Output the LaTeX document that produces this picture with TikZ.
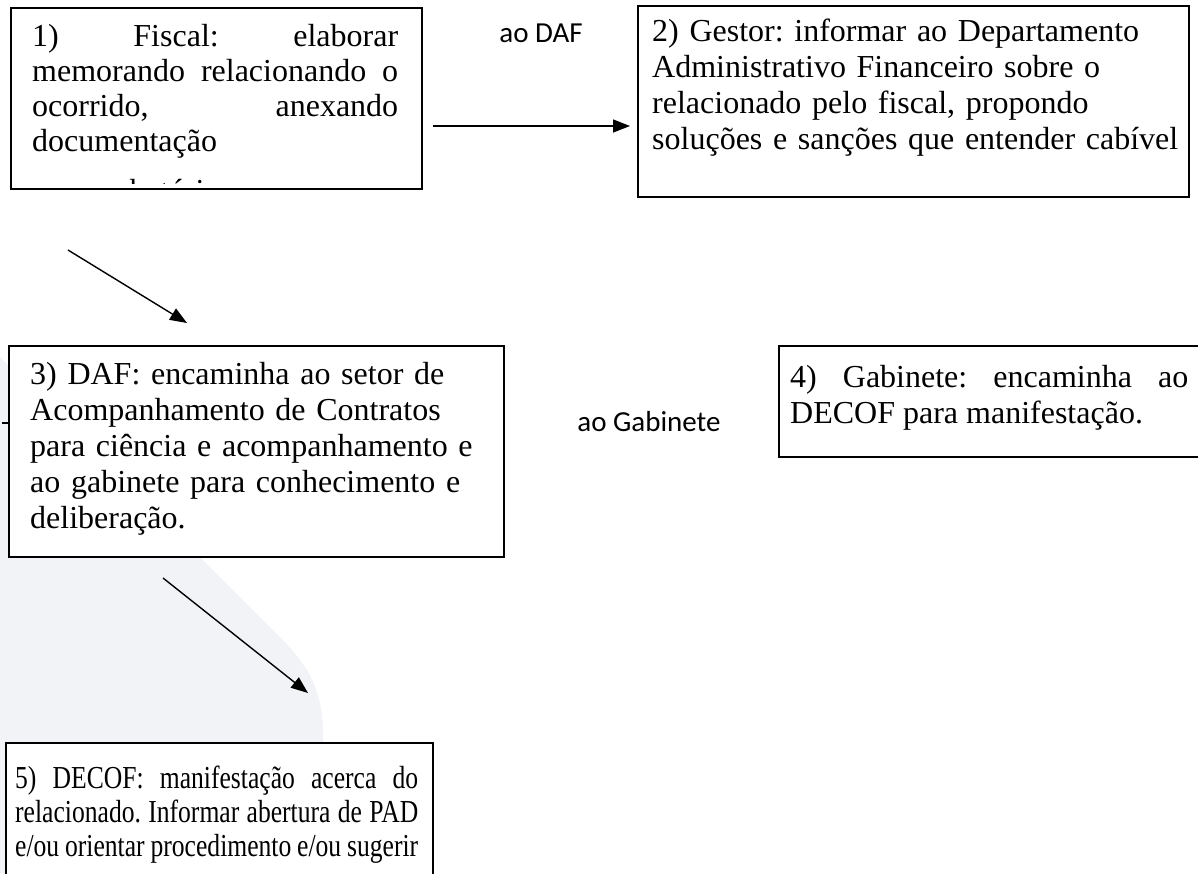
\documentclass[tikz,border=0pt]{standalone}
\usepackage{fontspec}
\setmainfont{Liberation Serif}
\newfontfamily\labelfont{Carlito}
\newfontfamily\condfont[FakeStretch=0.8]{Liberation Serif}
\usetikzlibrary{arrows.meta}
\definecolor{bgshape}{RGB}{242,243,247}
\hyphenpenalty=10000
\exhyphenpenalty=10000
\tolerance=10000
\frenchspacing
\begin{document}
\begin{tikzpicture}[x=1pt,y=-1pt,
  box/.style={draw=black,line width=1.8pt,fill=white,inner sep=0pt,anchor=north west},
  txt/.style={anchor=north west,inner sep=0pt,text width=#1,align=justify,
    font=\fontsize{32}{35}\selectfont},
  rag/.style={anchor=north west,inner sep=0pt,text width=#1,align=left,
    font=\fontsize{32}{36}\selectfont},
  lbl/.style={inner sep=0pt,font=\labelfont\fontsize{29}{32}\selectfont},
  conn/.style={line width=1.4pt,-{Triangle[length=17pt,width=13pt]}}]
\useasboundingbox (0,0) rectangle (1198,873);
\clip (0,0) rectangle (1198,873);
% background shape
\fill[bgshape] (0,357) -- (280,637) .. controls (308,665) and (323,690) .. (323,735) -- (323,873) -- (0,873) -- cycle;
% box 1
\node[box,minimum width=411pt,minimum height=181pt] (b1) at (10,7) {};
\begin{scope}
\clip (10,7) rectangle (421,183);
\node[txt=366pt] (t1) at (32,21.8) {\strut 1) Fiscal: elaborar\linebreak memorando relacionando o\linebreak ocorrido, anexando\linebreak documentação};
\node[anchor=base west,inner sep=0pt,font=\fontsize{32}{35}\selectfont] (t1b) at (32,201) {comprobatória};
\end{scope}
% box 2
\node[box,minimum width=551pt,minimum height=191pt] (b2) at (637,5) {};
\node[rag=530pt] (t2) at (652,15.8) {\strut 2) Gestor: informar ao Departamento\\ Administrativo Financeiro sobre o\\ relacionado pelo fiscal, propondo\\ soluções e sanções que entender cabível};
% box 3
\node[box,minimum width=495pt,minimum height=211pt] (b3) at (8,345) {};
\node[rag=470pt] (t3) at (30,358.8) {\strut 3) DAF: encaminha ao setor de\\ Acompanhamento de Contratos\\ para ciência e acompanhamento e\\ ao gabinete para conhecimento e\\ deliberação.};
% box 4
\node[box,minimum width=440pt,minimum height=111pt] (b4) at (778,345) {};
\node[txt=398pt,font=\fontsize{32}{36}\selectfont] (t4) at (790,361.8) {\strut 4) Gabinete: encaminha ao\linebreak DECOF para manifestação.};
% box 5
\node[box,minimum width=427pt,minimum height=150pt] (b5) at (5,742) {};
\node[anchor=north west,inner sep=0pt,text width=403pt,align=justify,
  font=\condfont\fontsize{32}{34}\selectfont] (t5) at (15,764.8) {\parfillskip=0pt\strut 5) DECOF: manifestação acerca do\linebreak relacionado. Informar abertura de PAD\linebreak e/ou orientar procedimento e/ou sugerir};
% labels
\node[lbl] (l1) at (541,33) {ao DAF};
\node[lbl] (l2) at (649,422) {ao Gabinete};
% connectors
\coordinate (a1s) at (433,126);
\coordinate (a1e) at (630,126);
\coordinate (a2s) at (68,250);
\coordinate (a2e) at (187,323);
\coordinate (a3s) at (163,578);
\coordinate (a3e) at (308,693);
\coordinate (tk1) at (2,423);
\coordinate (tk2) at (9,423);
\draw[conn] (a1s) -- (a1e);
\draw[conn] (a2s) -- (a2e);
\draw[conn] (a3s) -- (a3e);
\draw[line width=1.2pt] (tk1) -- (tk2);
\end{tikzpicture}
\end{document}
